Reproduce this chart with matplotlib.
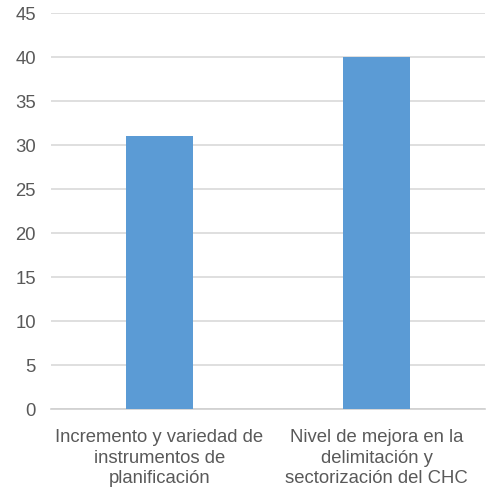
import matplotlib.pyplot as plt

# data
categories = ["Incremento y variedad de\ninstrumentos de\nplanificación",
              "Nivel de mejora en la\ndelimitación y\nsectorización del CHC"]
values = [31, 40]
yticks = [0, 5, 10, 15, 20, 25, 30, 35, 40, 45]

plt.rcParams['font.family'] = ['Liberation Sans', 'DejaVu Sans']

fig = plt.figure(figsize=(4.86, 4.89), dpi=100)
ax = fig.add_axes([0.105, 0.1616, 0.893, 0.81])

x = range(len(categories))
ax.bar(x, values, width=0.31, color="#5B9BD5", zorder=3)

ax.set_xlim(-0.5, len(categories) - 0.5)
ax.set_ylim(0, 45)
ax.set_yticks(yticks)
ax.set_xticks(list(x))
ax.set_xticklabels(categories, fontsize=13.3, color="#595959", linespacing=1.27)
ax.tick_params(axis='y', labelsize=13.3, labelcolor="#595959", length=0, pad=11)
ax.tick_params(axis='x', length=0, pad=14)

ax.grid(axis='y', color="#D9D9D9", linewidth=1.2, zorder=0)
for s in ['top', 'right', 'left']:
    ax.spines[s].set_visible(False)
ax.spines['bottom'].set_color("#D0D0D0")
ax.spines['bottom'].set_linewidth(1.2)

fig.savefig("out.png", dpi=100)
